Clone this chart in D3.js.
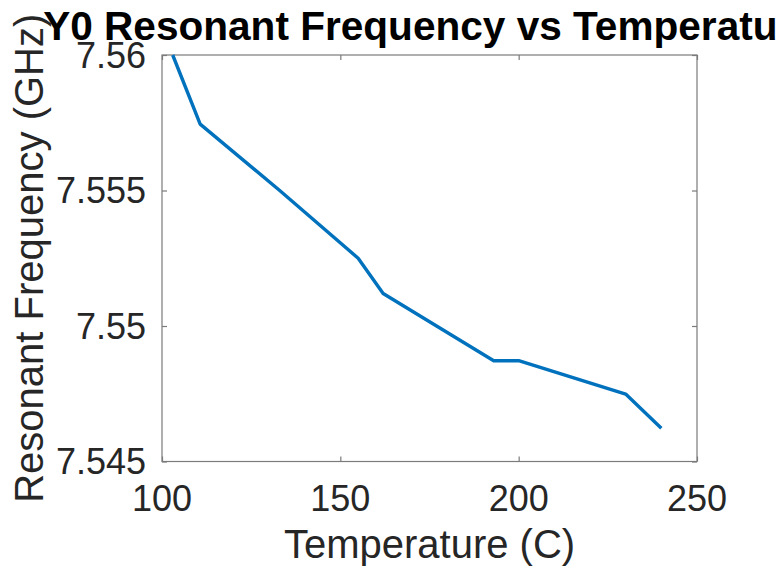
<!DOCTYPE html>
<html>
<head>
<meta charset="utf-8">
<script src="https://cdn.jsdelivr.net/npm/d3@7"></script>
<style>
  html, body { margin: 0; padding: 0; background: #fff; overflow: hidden; }
  svg { display: block; font-family: "Liberation Sans", Arial, Helvetica, sans-serif; }
</style>
</head>
<body>
<svg id="chart" width="776" height="569"></svg>
<script>
// Measured resonant frequency of Y0 at each temperature step
const temperature = [103, 110.7, 133, 155, 162, 193, 200, 230, 240];
const frequencyGHz = [7.5600, 7.55745, 7.5550, 7.5525, 7.5512, 7.54872, 7.54872, 7.54749, 7.54623];

const xTicks = [100, 150, 200, 250];
const yTicks = [7.545, 7.55, 7.555, 7.56];
const yTickLabels = ["7.545", "7.55", "7.555", "7.56"];

const titleText = "Y0 Resonant Frequency vs Temperature";
const xLabelText = "Temperature (C)";
const yLabelText = "Resonant Frequency (GHz)";

const svg = d3.select("#chart");
const box = { left: 162, right: 697, top: 55, bottom: 461.5 };

const x = d3.scaleLinear().domain([100, 250]).range([box.left, box.right]);
const y = d3.scaleLinear().domain([7.545, 7.56]).range([box.bottom, box.top]);

const axisColor = "#7b7b7b";
const textColor = "#262626";
const tickLen = 5;

// Plot area background and box
svg.append("rect")
  .attr("x", box.left).attr("y", box.top)
  .attr("width", box.right - box.left).attr("height", box.bottom - box.top)
  .attr("fill", "#fff").attr("stroke", axisColor).attr("stroke-width", 1.2);

// Inward tick marks on all four sides
const bottomAxis = d3.axisBottom(x).tickValues(xTicks).tickSizeInner(-tickLen).tickSizeOuter(0).tickFormat("");
const topAxis = d3.axisTop(x).tickValues(xTicks).tickSizeInner(-tickLen).tickSizeOuter(0).tickFormat("");
const leftAxis = d3.axisLeft(y).tickValues(yTicks).tickSizeInner(-tickLen).tickSizeOuter(0).tickFormat("");
const rightAxis = d3.axisRight(y).tickValues(yTicks).tickSizeInner(-tickLen).tickSizeOuter(0).tickFormat("");

function styleAxis(g) {
  g.select(".domain").remove();
  g.selectAll(".tick line").attr("stroke", axisColor).attr("stroke-width", 1.2);
}
svg.append("g").attr("transform", `translate(0,${box.bottom})`).call(bottomAxis).call(styleAxis);
svg.append("g").attr("transform", `translate(0,${box.top})`).call(topAxis).call(styleAxis);
svg.append("g").attr("transform", `translate(${box.left},0)`).call(leftAxis).call(styleAxis);
svg.append("g").attr("transform", `translate(${box.right},0)`).call(rightAxis).call(styleAxis);

// Tick labels
svg.append("g").selectAll("text").data(xTicks).join("text")
  .attr("x", d => x(d)).attr("y", 510.5)
  .attr("text-anchor", "middle")
  .attr("font-size", 36).attr("fill", textColor)
  .text(d => d);

svg.append("g").selectAll("text").data(yTicks).join("text")
  .attr("x", box.left - 16).attr("y", d => y(d) + 12.6)
  .attr("text-anchor", "end")
  .attr("font-size", 36).attr("fill", textColor)
  .text((d, i) => yTickLabels[i]);

// Data line
const line = d3.line().x((d, i) => x(temperature[i])).y(d => y(d));
svg.append("path")
  .datum(frequencyGHz)
  .attr("d", line)
  .attr("fill", "none")
  .attr("stroke", "#0072BD")
  .attr("stroke-width", 3.4)
  .attr("stroke-linejoin", "round");

// Axis labels
svg.append("text")
  .attr("x", (box.left + box.right) / 2).attr("y", 558)
  .attr("text-anchor", "middle")
  .attr("font-size", 40).attr("fill", textColor)
  .text(xLabelText);

svg.append("text")
  .attr("transform", `translate(43,${(box.top + box.bottom) / 2}) rotate(-90)`)
  .attr("text-anchor", "middle")
  .attr("font-size", 40).attr("fill", textColor)
  .text(yLabelText);

// Title
svg.append("text")
  .attr("x", (box.left + box.right) / 2).attr("y", 39.5)
  .attr("text-anchor", "middle")
  .attr("font-size", 40.6).attr("font-weight", "bold").attr("fill", "#000")
  .text(titleText);
</script>
</body>
</html>
